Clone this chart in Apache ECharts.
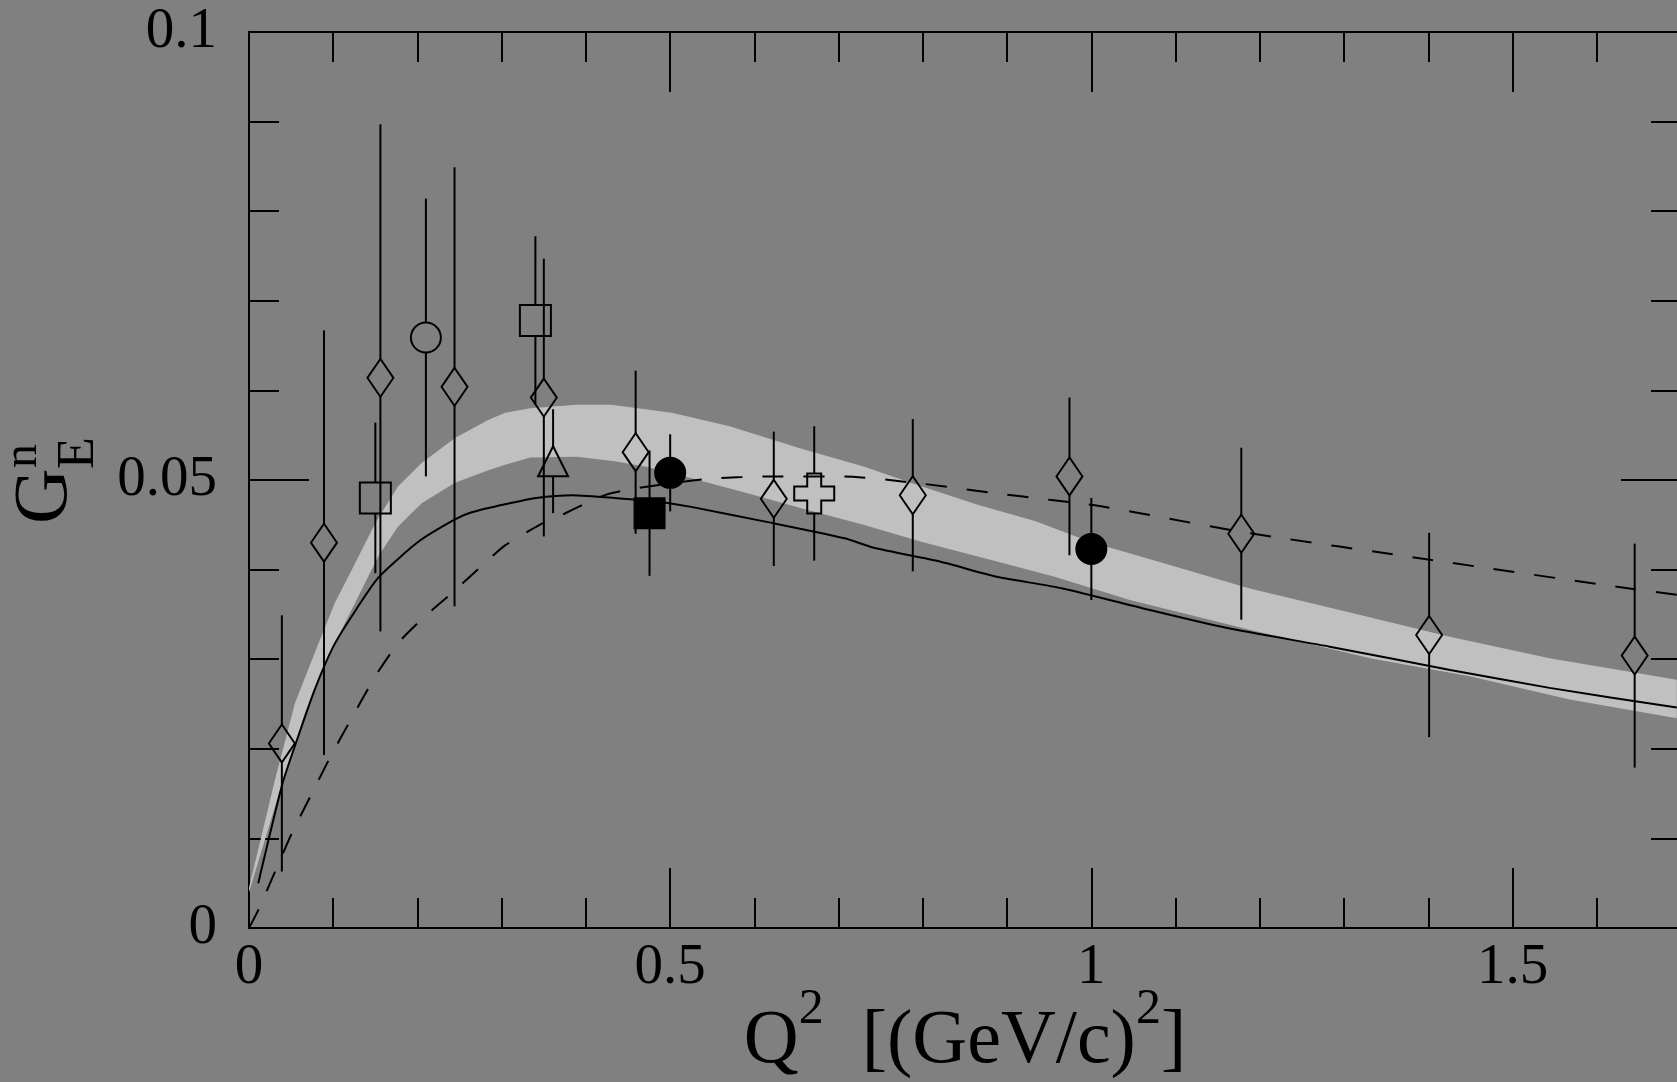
<!DOCTYPE html>
<html>
<head>
<meta charset="utf-8">
<script src="https://cdn.jsdelivr.net/npm/echarts@6/dist/echarts.min.js"></script>
<style>
  html, body { margin: 0; padding: 0; background: #808080; }
  #chart { width: 1677px; height: 1082px; }
</style>
</head>
<body>
<div id="chart"></div>
<script>
// ---- data ----
const diamondX   = [0.039, 0.089, 0.156, 0.244, 0.350, 0.459, 0.623, 0.788, 0.974, 1.178, 1.401, 1.645];
const diamondY   = [0.0206, 0.0430, 0.0614, 0.0604, 0.0592, 0.0531, 0.0479, 0.0483, 0.0504, 0.0440, 0.0327, 0.0304];
const diamondErr = [0.0143, 0.0237, 0.0283, 0.0245, 0.0155, 0.0091, 0.0075, 0.0085, 0.0088, 0.0096, 0.0114, 0.0125];

const openSquareX   = [0.150, 0.340];
const openSquareY   = [0.0480, 0.0678];
const openSquareErr = [0.0084, 0.0094];

const openCircleX   = [0.210];
const openCircleY   = [0.0659];
const openCircleErr = [0.0155];

const triangleX   = [0.361];
const triangleY   = [0.0521];
const triangleErr = [0.0058];

const filledSquareX   = [0.4755];
const filledSquareY   = [0.0463];
const filledSquareErr = [0.0070];

const filledCircleX   = [0.500, 1.000];
const filledCircleY   = [0.0508, 0.0423];
const filledCircleErr = [0.0043, 0.0057];

const crossX   = [0.671];
const crossY   = [0.0485];
const crossErr = [0.0075];

// solid theory curve
const solidX = [0.011, 0.040, 0.0585, 0.078, 0.100, 0.122, 0.1535, 0.201, 0.2445, 0.2643, 0.304, 0.341, 0.384, 0.434, 0.493, 0.525, 0.616, 0.707, 0.743, 0.820, 0.888, 0.966, 1.069, 1.160, 1.283, 1.426, 1.544, 1.695];
const solidY = [0.0050, 0.0162, 0.0214, 0.0266, 0.0314, 0.0348, 0.0391, 0.0431, 0.0456, 0.0464, 0.0473, 0.0480, 0.0483, 0.0480, 0.0475, 0.0470, 0.0453, 0.0435, 0.0424, 0.0409, 0.0392, 0.0379, 0.0355, 0.0335, 0.0314, 0.0288, 0.0268, 0.0246];

// dashed theory curve
const dashedX = [0, 0.011, 0.031, 0.051, 0.074, 0.096, 0.120, 0.150, 0.177, 0.209, 0.241, 0.276, 0.304, 0.345, 0.367, 0.391, 0.425, 0.4615, 0.543, 0.616, 0.707, 0.798, 0.888, 0.950, 1.010, 1.179, 1.402, 1.645, 1.695];
const dashedY = [0, 0.0020, 0.0063, 0.0106, 0.0149, 0.0190, 0.0231, 0.0281, 0.0318, 0.0348, 0.0374, 0.0404, 0.0427, 0.0450, 0.0459, 0.0470, 0.0484, 0.0491, 0.0501, 0.0504, 0.0504, 0.0496, 0.0485, 0.0478, 0.0471, 0.0442, 0.0411, 0.0378, 0.0372];

// band (upper and lower edges)
const bandUpperX = [0, 0.031, 0.0546, 0.078, 0.102, 0.126, 0.150, 0.177, 0.205, 0.2445, 0.284, 0.304, 0.334, 0.389, 0.430, 0.4615, 0.502, 0.5705, 0.652, 0.7295, 0.798, 0.866, 0.934, 0.998, 1.079, 1.188, 1.307, 1.4255, 1.544, 1.695];
const bandUpperY = [0.0045, 0.0166, 0.0251, 0.0307, 0.0363, 0.0407, 0.0452, 0.0493, 0.0519, 0.0547, 0.0567, 0.0575, 0.0580, 0.0584, 0.0584, 0.0580, 0.0575, 0.0560, 0.0536, 0.0515, 0.0493, 0.0472, 0.0454, 0.0431, 0.0409, 0.0379, 0.0352, 0.0325, 0.0301, 0.0277];
const bandLowerX = [0, 0.0407, 0.0665, 0.102, 0.126, 0.1535, 0.177, 0.205, 0.2445, 0.284, 0.304, 0.334, 0.389, 0.434, 0.4705, 0.525, 0.593, 0.661, 0.7295, 0.798, 0.888, 0.9565, 1.0457, 1.188, 1.331, 1.449, 1.568, 1.695];
const bandLowerY = [0.0040, 0.0166, 0.0240, 0.0318, 0.0363, 0.0415, 0.0448, 0.0474, 0.0497, 0.0511, 0.0517, 0.0525, 0.0526, 0.0521, 0.0515, 0.0502, 0.0485, 0.0467, 0.0450, 0.0431, 0.0409, 0.0392, 0.0366, 0.0333, 0.0301, 0.0281, 0.0255, 0.0234];

const xTickLabels = ['0', '0.5', '1', '1.5'];
const yTickLabels = ['0', '0.05', '0.1'];

// ---- chart ----
const FONT = 'Liberation Serif';
const zip2 = (xs, ys) => xs.map((x, i) => [x, ys[i]]);
const zip3 = (xs, ys, es) => xs.map((x, i) => [x, ys[i], es[i]]);

function errSeries(xs, ys, es, halfTop, halfBot) {
  return {
    type: 'custom',
    coordinateSystem: 'cartesian2d',
    z: 3,
    silent: true,
    encode: { x: 0, y: 1 },
    data: zip3(xs, ys, es),
    renderItem: function (params, api) {
      const x = api.value(0), y = api.value(1), e = api.value(2);
      const c = api.coord([x, y]);
      const t = api.coord([x, y + e]);
      const b = api.coord([x, y - e]);
      const st = { stroke: '#000', lineWidth: 2 };
      return {
        type: 'group',
        children: [
          { type: 'line', shape: { x1: c[0], y1: t[1], x2: c[0], y2: c[1] - halfTop }, style: st },
          { type: 'line', shape: { x1: c[0], y1: c[1] + halfBot, x2: c[0], y2: b[1] }, style: st }
        ]
      };
    }
  };
}

function markSeries(xs, ys, symbol, size, fill) {
  return {
    type: 'scatter',
    z: 4,
    silent: true,
    data: zip2(xs, ys),
    symbol: symbol,
    symbolSize: size,
    itemStyle: { color: fill, borderColor: '#000', borderWidth: 2, opacity: 1 }
  };
}

const crossPath = 'path://M13,0 H27 V13 H40 V27 H27 V40 H13 V27 H0 V13 H13 Z';

const isLabelValue = (v, list) => list.indexOf(String(v)) >= 0;

const axisCommon = {
  axisLine: { show: true, onZero: false, lineStyle: { color: '#000', width: 2 } },
  axisTick: { show: true, inside: true, length: 60, lineStyle: { color: '#000', width: 2 } },
  minorTick: { show: true, splitNumber: 5, length: 30, lineStyle: { color: '#000', width: 2 } },
  splitLine: { show: false },
  minorSplitLine: { show: false }
};

const chart = echarts.init(document.getElementById('chart'), null, { renderer: 'canvas' });

const option = {
  backgroundColor: '#808080',
  animation: false,
  grid: { left: 249, top: 32, width: 1432, height: 896, containLabel: false, outerBoundsMode: 'none' },
  xAxis: [
    Object.assign({}, axisCommon, {
      type: 'value', position: 'bottom', min: 0, max: 1.7, interval: 0.5,
      axisLabel: {
        show: true, margin: 12, color: '#000', fontFamily: FONT, fontSize: 57,
        formatter: v => isLabelValue(v, xTickLabels) ? String(v) : ''
      },
      name: '{m|Q}{s|2}{m|  [(GeV/c)}{s|2}{m|]}',
      nameLocation: 'middle',
      nameGap: 57,
      nameMoveOverlap: false,
      nameTextStyle: {
        color: '#000', fontFamily: FONT, fontSize: 76,
        rich: {
          m: { color: '#000', fontFamily: FONT, fontSize: 76, lineHeight: 114 },
          s: { color: '#000', fontFamily: FONT, fontSize: 50, lineHeight: 50, verticalAlign: 'top' }
        }
      }
    }),
    Object.assign({}, axisCommon, {
      type: 'value', position: 'top', min: 0, max: 1.7, interval: 0.5,
      axisLabel: { show: false }
    })
  ],
  yAxis: [
    Object.assign({}, axisCommon, {
      type: 'value', position: 'left', min: 0, max: 0.1, interval: 0.05,
      axisLabel: {
        show: true, margin: 32, color: '#000', fontFamily: FONT, fontSize: 57,
        formatter: v => isLabelValue(v, yTickLabels) ? String(v) : ''
      }
    }),
    Object.assign({}, axisCommon, {
      type: 'value', position: 'right', min: 0, max: 0.1, interval: 0.05,
      axisLabel: { show: false }
    })
  ],
  graphic: [
    {
      type: 'group',
      x: 72, y: 524,
      rotation: Math.PI / 2,
      silent: true,
      children: [
        { type: 'text', x: 0, y: -26, style: { text: 'G', fontFamily: FONT, fontSize: 77, fill: '#000', align: 'left', verticalAlign: 'middle' } },
        { type: 'text', x: 55, y: 7, style: { text: 'E', fontFamily: FONT, fontSize: 52, fill: '#000', align: 'left', verticalAlign: 'middle' } },
        { type: 'text', x: 56, y: -49, style: { text: 'n', fontFamily: FONT, fontSize: 48, fill: '#000', align: 'left', verticalAlign: 'middle' } }
      ]
    }
  ],
  series: [
    {
      type: 'custom',
      coordinateSystem: 'cartesian2d',
      z: 1,
      silent: true,
      encode: { x: 0, y: 1 },
      data: [[bandUpperX[0], bandUpperY[0]]],
      renderItem: function (params, api) {
        const up = bandUpperX.map((x, i) => api.coord([x, bandUpperY[i]]));
        const lo = bandLowerX.map((x, i) => api.coord([x, bandLowerY[i]])).reverse();
        return {
          type: 'polygon',
          shape: { points: up.concat(lo) },
          style: { fill: '#c0c0c0', stroke: null }
        };
      }
    },
    {
      type: 'line', z: 2, silent: true,
      data: zip2(solidX, solidY),
      showSymbol: false, symbol: 'none', smooth: 0.2,
      lineStyle: { color: '#000', width: 2 }
    },
    {
      type: 'line', z: 2, silent: true,
      data: zip2(dashedX, dashedY),
      showSymbol: false, symbol: 'none', smooth: 0.2,
      lineStyle: { color: '#000', width: 2, type: [21, 20] }
    },
    errSeries(diamondX, diamondY, diamondErr, 19, 19),
    errSeries(openSquareX, openSquareY, openSquareErr, 15.5, 15.5),
    errSeries(openCircleX, openCircleY, openCircleErr, 15, 15),
    errSeries(triangleX, triangleY, triangleErr, 15, 15),
    errSeries(filledSquareX, filledSquareY, filledSquareErr, 0, 0),
    errSeries(filledCircleX, filledCircleY, filledCircleErr, 0, 0),
    errSeries(crossX, crossY, crossErr, 20, 20),
    markSeries(diamondX, diamondY, 'diamond', [26, 38], 'rgba(0,0,0,0)'),
    markSeries(openSquareX, openSquareY, 'rect', 31, 'rgba(0,0,0,0)'),
    markSeries(openCircleX, openCircleY, 'circle', 30, 'rgba(0,0,0,0)'),
    markSeries(triangleX, triangleY, 'triangle', 30, 'rgba(0,0,0,0)'),
    markSeries(filledSquareX, filledSquareY, 'rect', 30, '#000'),
    markSeries(filledCircleX, filledCircleY, 'circle', 30, '#000'),
    markSeries(crossX, crossY, crossPath, 40, 'rgba(0,0,0,0)')
  ]
};

chart.setOption(option);
</script>
</body>
</html>
